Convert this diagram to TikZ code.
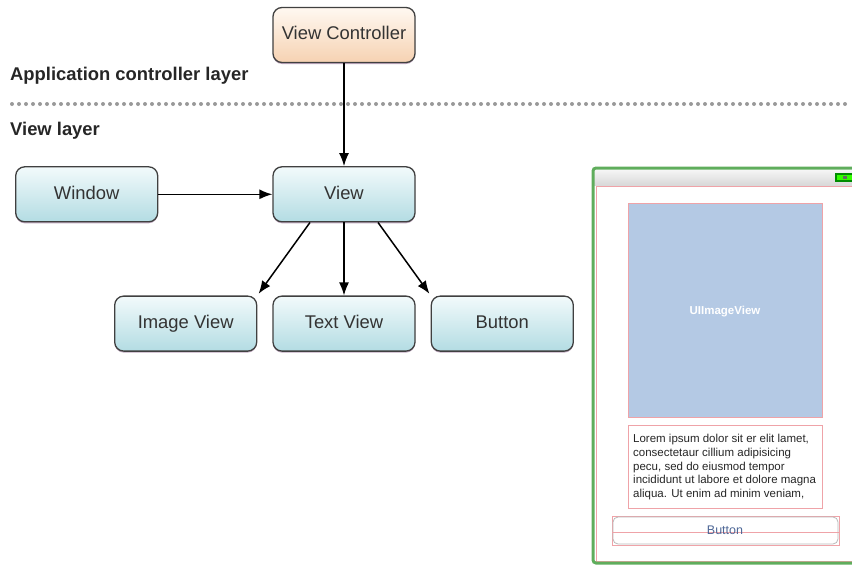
\documentclass[tikz,border=0pt]{standalone}
\usepackage{fontspec}
\setmainfont{Liberation Sans}
\usetikzlibrary{arrows.meta, calc, positioning, shadows}
\definecolor{boxtop}{HTML}{F2FAFB}
\definecolor{boxbottom}{HTML}{B3DCE3}
\definecolor{vctop}{HTML}{FFF8F1}
\definecolor{vcbottom}{HTML}{F6D2B2}
\definecolor{framegreen}{HTML}{5FAD5C}
\definecolor{outlinered}{HTML}{EFA3A8}
\definecolor{imgblue}{HTML}{B4C9E4}
\definecolor{btntext}{HTML}{4E6796}
\tikzstyle{block} = [rectangle, rounded corners=9pt, minimum width=142pt, minimum height=55pt, line width=1.3pt, draw=black!75, top color=boxtop, bottom color=boxbottom, text=black!80, text height=13pt, text depth=3.5pt, font=\fontsize{18.4}{22}\selectfont, drop shadow={shadow xshift=0pt, shadow yshift=-1.5pt, fill=violet!35!gray, opacity=0.5}]
\tikzstyle{ctrl} = [block, top color=vctop, bottom color=vcbottom]
\tikzstyle{layer} = [anchor=west, inner sep=0pt, text=black!85, font=\bfseries\fontsize{18.4}{22}\selectfont]
\tikzstyle{separator} = [gray!80, line width=4pt, line cap=round, dash pattern=on 0pt off 7pt]
\tikzstyle{arrow} = [line width=1.5pt, -{Latex[length=13pt,width=10pt]}]
\tikzstyle{outline} = [outlinered, line width=0.8pt]

\begin{document}
\begin{tikzpicture}[x=1pt, y=-1pt, node distance=15pt]
		\useasboundingbox (0,0) rectangle (852,565);
		\node (ViewController) [ctrl] at (344,35) {View Controller};
		\node (View) [block, below = 103pt of ViewController] {View};
		\node (Window) [block, left = 114pt of View] {Window};
		\node (TextView) [block, below = 73pt of View] {Text View};
		\node (ImageView) [block, left = of TextView] {Image View};
		\node (Button) [block, right = of TextView] {Button};
		
		\node (AppLayer) [layer] at (10,76) {Application controller layer};
		\node (ViewLayer) [layer] at (10,131) {View layer};
		\coordinate (SepLeft) at (12,104);
		\coordinate (SepRight) at (852,104);
		\draw [separator] (SepLeft) -- (SepRight);
		
		\draw [arrow] (ViewController) -- (View);
		\draw [arrow] (Window) -- (View);
		\draw [arrow, shorten >=2pt] ($(View.south)+(-34,0)$) -- (ImageView.north east);
		\draw [arrow] (View) -- (TextView);
		\draw [arrow, shorten >=2pt] ($(View.south)+(34,0)$) -- (Button.north west);
		
		% screen mock-up on the right
		\begin{scope}
		\clip (0,0) rectangle (852,565);
		\shade [top color=gray!8, bottom color=gray!30] (594,170) rectangle (860,185);
		\draw [outline] (596,186) rectangle (870,561);
		\draw [framegreen, line width=3pt, rounded corners=3pt] (593,168) rectangle (880,563);
		\fill [green!55!black] (835,173) rectangle (852,182);
		\fill [green!80!yellow] (837,175) rectangle (852,180);
		\fill [black!60] (843,176) rectangle (847,179);
		\end{scope}
		
		\draw [outline, fill=imgblue] (628,203) rectangle (822,417);
		\node (ImageLabel) [text=white, font=\bfseries\fontsize{11.5}{13}\selectfont] at (725,312) {UIImageView};
		
		\draw [outline] (628,425) rectangle (822,508);
		\node (LoremText) [anchor=north west, inner sep=0pt, align=left, text=black!85, font=\fontsize{11.5}{13.75}\selectfont] at (633,434) {Lorem ipsum dolor sit er elit lamet,\\consectetaur cillium adipisicing\\pecu, sed do eiusmod tempor\\incididunt ut labore et dolore magna\\aliqua. Ut enim ad minim veniam,};
		
		\draw [outline] (612,516) rectangle (839,545);
		\draw [gray!55, line width=0.8pt, rounded corners=5pt] (613,517) rectangle (838,544);
		\draw [outline] (612,532) -- (839,532);
		\node (ButtonLabel) [text=btntext, font=\fontsize{12.5}{14}\selectfont] at (725,530) {Button};
\end{tikzpicture}
\end{document}
